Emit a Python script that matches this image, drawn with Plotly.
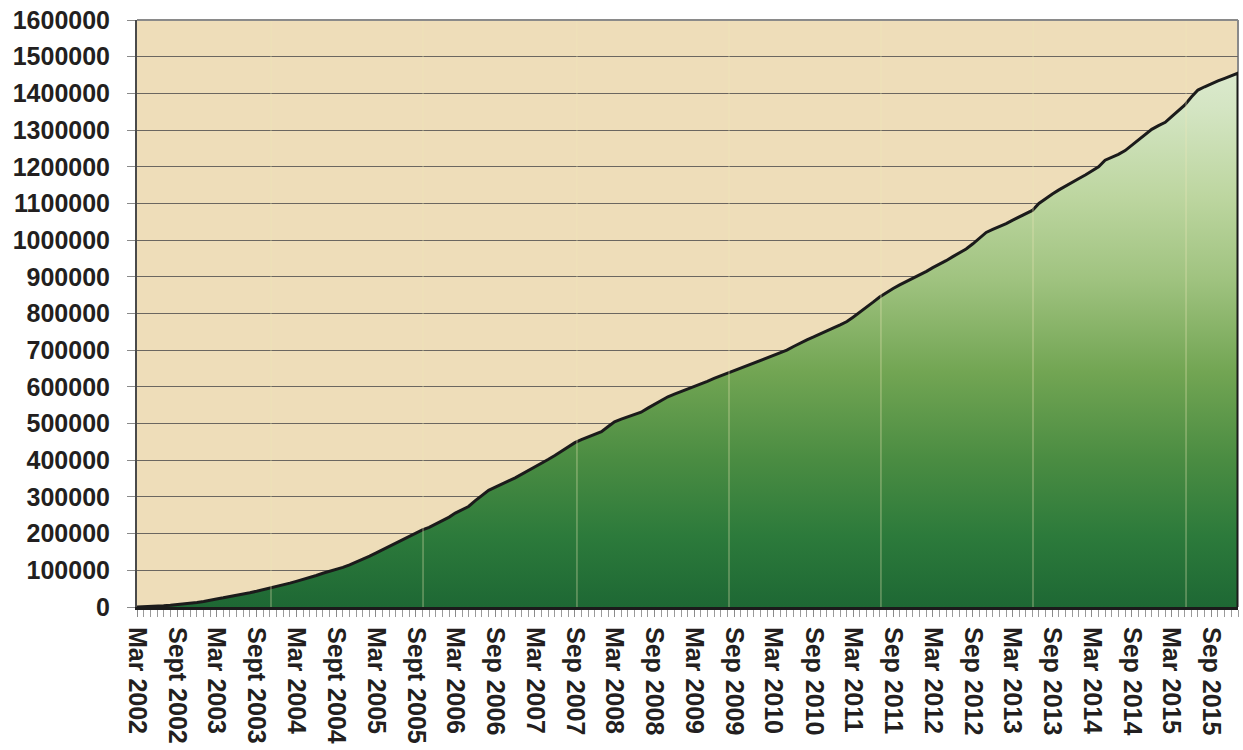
import pandas as pd
import plotly.graph_objects as go

# Cumulative total, one reading per month, starting March 2002
first_month = "2002-03-01"
monthly_totals = [
    0, 500, 1200, 2200, 3400, 4800, 6400, 8200, 10200, 12400,
    14800, 19500, 22000, 25000, 28000, 31500, 35000, 39000, 43000, 47000,
    51000, 55500, 60000, 65000, 70000, 75000, 80500, 86000, 92000, 97000,
    102500, 108000, 115000, 122000, 130000, 138500, 147000, 156000, 165500, 175000,
    184000, 193000, 201500, 210000, 217000, 226000, 235000, 245000, 256000, 265000,
    274000, 290000, 305000, 318000, 327000, 336000, 344000, 352000, 362000, 372000,
    382000, 392000, 402000, 413000, 425000, 437000, 448000, 456000, 463000, 470000,
    478000, 492000, 505000, 512000, 518000, 524000, 531000, 542000, 552000, 563000,
    573000, 580000, 587000, 594000, 600000, 608000, 615000, 623000, 630000, 638000,
    645000, 652000, 658000, 665000, 672000, 679000, 686000, 693000, 700000, 710000,
    720000, 728000, 736000, 745000, 753000, 761000, 769000, 778000, 790000, 803000,
    817000, 831000, 845000, 857000, 868000, 878000, 887000, 896000, 905000, 915000,
    925000, 934000, 944000, 955000, 966000, 976000, 990000, 1006000, 1021000, 1029000,
    1036000, 1045000, 1054000, 1063000, 1072000, 1081000, 1100000, 1114000, 1126000, 1137000,
    1148000, 1159000, 1168000, 1178000, 1188000, 1200000, 1218000, 1226000, 1234000, 1244000,
    1259000, 1274000, 1289000, 1302000, 1312000, 1321000, 1336000, 1352000, 1368000, 1390000,
    1409000, 1418000, 1427000, 1434000, 1441000, 1448000, 1455000,
]

# Half-yearly axis labels (March and September)
tick_dates = pd.date_range("2002-03-01", "2015-09-01", freq="6MS")
tick_labels = [
    "Mar 2002", "Sept 2002", "Mar 2003", "Sept 2003", "Mar 2004", "Sept 2004",
    "Mar 2005", "Sept 2005", "Mar 2006", "Sep 2006", "Mar 2007", "Sep 2007",
    "Mar 2008", "Sep 2008", "Mar 2009", "Sep 2009", "Mar 2010", "Sep 2010",
    "Mar 2011", "Sep 2011", "Mar 2012", "Sep 2012", "Mar 2013", "Sep 2013",
    "Mar 2014", "Sep 2014", "Mar 2015", "Sep 2015",
]

months = pd.date_range(first_month, periods=len(monthly_totals), freq="MS")

FONT = "Liberation Sans, Arial, sans-serif"
TEXT = "#231f20"

fig = go.Figure()

# Green gradient area
fig.add_trace(go.Scatter(
    x=months, y=monthly_totals,
    mode="lines", line=dict(width=0),
    fill="tozeroy",
    fillgradient=dict(
        type="vertical", start=0, stop=1600000,
        colorscale=[
            [0.00, "#1e6834"],
            [0.12, "#2c7a3b"],
            [0.25, "#4a8c42"],
            [0.40, "#72a553"],
            [0.56, "#a0c380"],
            [0.70, "#bdd6a0"],
            [0.85, "#d4e5c3"],
            [1.00, "#e6f0dc"],
        ],
    ),
    hoverinfo="skip", showlegend=False,
))

# Black outline along the top of the area and down the right edge
fig.add_trace(go.Scatter(
    x=list(months) + [months[-1]],
    y=monthly_totals + [0],
    mode="lines",
    line=dict(color="#1b1b1b", width=3, shape="linear"),
    hoverinfo="skip", showlegend=False,
))

# Faint light seams in the fill
shapes = []
for fx in [0.1217, 0.2598, 0.3996, 0.5377, 0.6757, 0.8138, 0.9528]:
    shapes.append(dict(
        type="line", xref="paper", yref="paper", x0=fx, x1=fx, y0=0, y1=1,
        line=dict(color="rgba(240,232,185,0.45)", width=1.2), layer="above",
    ))
# Plot-area frame (top and right)
shapes.append(dict(
    type="line", xref="paper", yref="paper", x0=0, x1=1, y0=1, y1=1,
    line=dict(color="#8a8a8a", width=2), layer="above",
))
shapes.append(dict(
    type="line", xref="paper", yref="paper", x0=1, x1=1, y0=0, y1=1,
    line=dict(color="#8a8a8a", width=2), layer="below",
))

fig.update_layout(
    width=1243, height=750,
    margin=dict(l=137, r=5, t=20, b=143),
    paper_bgcolor="white",
    plot_bgcolor="#eeddb9",
    font=dict(family=FONT, color=TEXT),
    shapes=shapes,
)

fig.update_yaxes(
    range=[0, 1600000], dtick=100000, tick0=0, tickformat="d",
    showgrid=True, gridcolor="#6b6660", gridwidth=1.3,
    showline=True, linecolor="#4a4a4a", linewidth=2,
    ticks="outside", ticklen=8, tickcolor="#8a8a8a", tickwidth=1,
    tickfont=dict(family=FONT, size=25, color=TEXT, weight="bold"),
    ticklabelstandoff=12,
    zeroline=False, fixedrange=True,
)

fig.update_xaxes(
    type="date",
    range=[months[0], months[-1]],
    tickmode="array", tickvals=tick_dates, ticktext=tick_labels,
    tickangle=90,
    tickfont=dict(family=FONT, size=25, color=TEXT, weight="bold"),
    ticks="outside", ticklen=7, tickcolor="#8a8a8a", tickwidth=1,
    minor=dict(dtick="M1", tick0=first_month, ticks="outside", ticklen=7,
               tickcolor="#9a9a9a", tickwidth=1, showgrid=False),
    showgrid=False,
    showline=True, linecolor="#1b1b1b", linewidth=3,
    ticklabelstandoff=5,
    zeroline=False, fixedrange=True,
)

fig.write_html("out.html")
